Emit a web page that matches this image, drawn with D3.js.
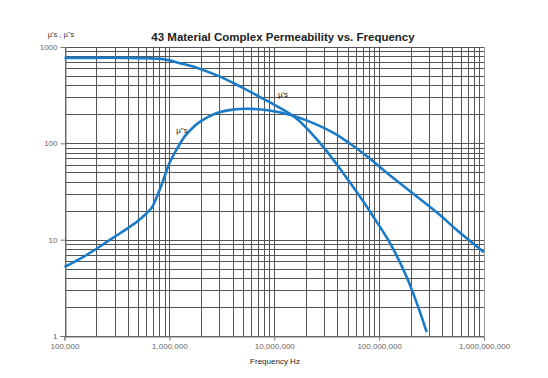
<!DOCTYPE html>
<html><head><meta charset="utf-8">
<script src="https://cdn.jsdelivr.net/npm/d3@7/dist/d3.min.js"></script>
<style>body{margin:0;background:#fff}svg{display:block}text{font-family:"Liberation Sans",Arial,sans-serif}</style>
</head><body><svg id="c" width="548" height="378"></svg>
<script>
const title = "43 Material Complex Permeability vs. Frequency";
const yTitle = "µ's , µ''s";
const xTitle = "Frequency  Hz";
const xTickValues = [1e5, 1e6, 1e7, 1e8, 1e9];
const xTickLabels = ["100,000", "1,000,000", "10,000,000", "100,000,000", "1,000,000,000"];
const yTickValues = [1, 10, 100, 1000];
const yTickLabels = ["1", "10", "100", "1000"];
// μ' (real part)
const muPrimeFreq = [1e5, 2e5, 4e5, 6e5, 8.75e5, 1.26e6, 1.82e6, 3e6, 4.7e6, 7.85e6, 1.22e7, 1.64e7, 2.93e7, 4.55e7, 6.56e7, 8.8e7, 1.27e8, 1.83e8, 2.28e8, 2.84e8];
const muPrimeVal  = [772, 772, 772, 765, 748, 680, 610, 495, 390, 290, 222, 180, 92, 49, 28, 17.3, 9.2, 4.1, 2.22, 1.1];
// μ'' (imaginary part)
const muDPrimeFreq = [1e5, 1.5e5, 2e5, 2.5e5, 3e5, 4e5, 5e5, 6e5, 6.8e5, 7.5e5, 8.5e5, 1e6, 1.2e6, 1.4e6, 1.7e6, 2e6, 2.8e6, 4e6, 6e6, 9e6, 1.4e7, 2e7, 3.6e7, 5.3e7, 7.6e7, 1.1e8, 1.58e8, 2.5e8, 3.8e8, 5.5e8, 1e9];
const muDPrimeVal  = [5.2, 6.6, 8.0, 9.4, 10.7, 13.1, 15.6, 18.6, 21.5, 27, 38, 62, 90, 118, 148, 170, 205, 224, 228, 219, 198, 174, 130, 99, 74, 53, 38.5, 26, 18, 12.6, 7.4];
const labelPrime = "µ's", labelDPrime = "µ''s";

const svg = d3.select("#c");
const L = 64.5, R = 484, T = 47, B = 336;
const x = d3.scaleLog().domain([1e5, 1e9]).range([L, R]);
const y = d3.scaleLog().domain([1, 1000]).range([B, T]);

// grid
const g = svg.append("g").attr("shape-rendering", "crispEdges");
const xMinor = [], yMinor = [];
for (let d = 1e5; d < 1e9; d *= 10) for (let k = 1; k <= 9; k++) xMinor.push(d * k);
xMinor.push(1e9);
for (let d = 1; d < 1000; d *= 10) for (let k = 1; k <= 9; k++) yMinor.push(d * k);
yMinor.push(1000);
g.selectAll(".vx").data(xMinor).join("line")
  .attr("x1", d => Math.round(x(d)) + 0.5).attr("x2", d => Math.round(x(d)) + 0.5)
  .attr("y1", T).attr("y2", B).attr("stroke", "#555").attr("stroke-width", 1);
g.selectAll(".hy").data(yMinor).join("line")
  .attr("y1", d => Math.round(y(d)) + 0.5).attr("y2", d => Math.round(y(d)) + 0.5)
  .attr("x1", L).attr("x2", R).attr("stroke", "#555").attr("stroke-width", 1);
g.append("line").attr("x1", Math.round(R)+0.5).attr("x2", Math.round(R)+0.5).attr("y1", T).attr("y2", B).attr("stroke", "#999");

// axes
const xAxis = d3.axisBottom(x).tickValues(xTickValues).tickFormat((d, i) => xTickLabels[i]).tickSize(4).tickPadding(3);
const yAxis = d3.axisLeft(y).tickValues(yTickValues).tickFormat((d, i) => yTickLabels[i]).tickSize(5).tickPadding(3);
const gx = svg.append("g").attr("transform", `translate(0,${Math.round(B)+0.5})`).call(xAxis);
const gy = svg.append("g").attr("transform", `translate(${Math.round(L)+0.5},0)`).call(yAxis);
[gx, gy].forEach(a => {
  a.select(".domain").attr("stroke", "#777");
  a.selectAll(".tick line").attr("stroke", "#777");
  a.selectAll("text").attr("fill", "#666").attr("font-size", "8px").attr("font-family", "Liberation Sans, Arial, sans-serif");
});

// curves
const line = d3.line().x(d => x(d[0])).y(d => y(d[1])).curve(d3.curveCatmullRom.alpha(0.5));
const dPrime = muPrimeFreq.map((f, i) => [f, muPrimeVal[i]]);
const dDPrime = muDPrimeFreq.map((f, i) => [f, muDPrimeVal[i]]);
[dPrime, dDPrime].forEach(d => svg.append("path").datum(d).attr("d", line)
  .attr("fill", "none").attr("stroke", "#1a7bc8").attr("stroke-width", 2.6).attr("stroke-linejoin", "round"));

// labels
svg.append("text").attr("x", 283).attr("y", 97).attr("text-anchor", "middle").attr("font-size", "8px").attr("fill", "#222").text(labelPrime);
svg.append("text").attr("x", 182).attr("y", 133).attr("text-anchor", "middle").attr("font-size", "8px").attr("fill", "#222").text(labelDPrime);

svg.append("text").attr("x", 283).attr("y", 41).attr("text-anchor", "middle").attr("font-size", "11.5px").attr("font-weight", "bold").attr("fill", "#222").text(title);
svg.append("text").attr("x", 61).attr("y", 37).attr("text-anchor", "middle").attr("font-size", "7.5px").attr("fill", "#333").text(yTitle);
svg.append("text").attr("x", 275).attr("y", 364).attr("text-anchor", "middle").attr("font-size", "8px").attr("fill", "#222").text(xTitle);
</script></body></html>
